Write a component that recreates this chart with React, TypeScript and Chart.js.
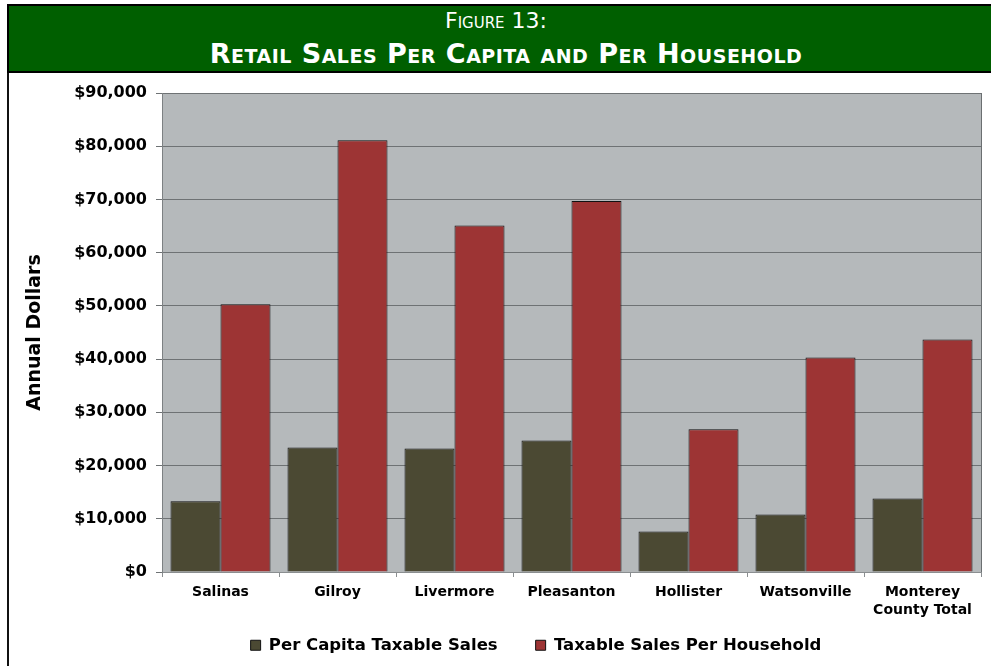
import React, { useEffect, useRef } from "react";
import { Chart, registerables } from "chart.js";

Chart.register(...registerables);

const categories: (string | string[])[] = [
  "Salinas",
  "Gilroy",
  "Livermore",
  "Pleasanton",
  "Hollister",
  "Watsonville",
  ["Monterey", "County Total"],
];
const perCapitaSales = [13300, 23400, 23200, 24700, 7600, 10800, 13800];
const perHouseholdSales = [50300, 81100, 65100, 69700, 26800, 40300, 43700];
const seriesNames = ["Per Capita Taxable Sales", "Taxable Sales Per Household"];
const yMin = 0;
const yMax = 90000;
const yStep = 10000;
const yTitle = "Annual Dollars";
const headerLine1 = "Figure 13:";
const headerLine2 = "Retail Sales Per Capita and Per Household";

const FONT = "'DejaVu Sans', Verdana, sans-serif";

const plotFrame = {
  id: "plotFrame",
  beforeDraw(chart: any) {
    const { ctx, chartArea: a } = chart;
    ctx.save();
    ctx.fillStyle = "#b5b9bb";
    ctx.fillRect(a.left, a.top, a.right - a.left, a.bottom - a.top);
    ctx.restore();
  },
  afterDatasetsDraw(chart: any) {
    const { ctx, chartArea: a } = chart;
    ctx.save();
    ctx.strokeStyle = "#6b6f71";
    ctx.lineWidth = 1;
    ctx.beginPath();
    ctx.moveTo(Math.round(a.right) + 0.5, a.top);
    ctx.lineTo(Math.round(a.right) + 0.5, a.bottom);
    ctx.stroke();
    ctx.restore();
  },
};

// place the legend under the plot, centred like the original
const legendPlacer = {
  id: "legendPlacer",
  afterLayout(chart: any) {
    const l = chart.legend;
    if (!l) return;
    l.left = 91;
    l.top = 599;
  },
};

export default function App() {
  const canvasRef = useRef<HTMLCanvasElement | null>(null);

  useEffect(() => {
    if (!canvasRef.current) return;
    Chart.defaults.color = "#000";
    const chart = new Chart(canvasRef.current, {
      type: "bar",
      data: {
        labels: categories,
        datasets: [
          {
            label: seriesNames[0],
            data: perCapitaSales,
            backgroundColor: "#4b4933",
            borderColor: "#111",
            borderWidth: 1,
          },
          {
            label: seriesNames[1],
            data: perHouseholdSales,
            backgroundColor: "#9d3434",
            borderColor: "#111",
            borderWidth: 1,
          },
        ],
      },
      options: {
        responsive: false,
        animation: false,
        devicePixelRatio: 1,
        layout: { padding: { left: 0, right: 10, top: 93, bottom: 6 } },
        datasets: {
          bar: { barPercentage: 1, categoryPercentage: 100 / 117 },
        },
        plugins: {
          tooltip: { enabled: false },
          legend: {
            position: "bottom",
            maxHeight: 40,
            labels: {
              boxWidth: 10,
              boxHeight: 10,
              padding: 38,
              color: "#000",
              font: { family: FONT, size: 16.5, weight: "bold" },
            },
          },
        },
        scales: {
          x: {
            afterFit: (s: any) => {
              s.height = 48;
            },
            grid: {
              display: true,
              drawOnChartArea: false,
              drawTicks: true,
              tickLength: 5,
              color: "#8a8e90",
              offset: true,
            },
            border: { color: "#8a8e90" },
            ticks: {
              padding: 6,
              maxRotation: 0,
              autoSkip: false,
              color: "#000",
              font: { family: FONT, size: 14, weight: "bold", lineHeight: 1.3 },
            },
          },
          y: {
            min: yMin,
            max: yMax,
            afterFit: (s: any) => {
              s.width = 162;
            },
            grid: {
              color: "#6e7274",
              tickLength: 6,
              drawTicks: true,
            },
            border: { color: "#7d8183" },
            ticks: {
              stepSize: yStep,
              padding: 9,
              color: "#000",
              font: { family: FONT, size: 16, weight: "bold" },
              callback: (v: any) => "$" + Number(v).toLocaleString("en-US"),
            },
            title: {
              display: true,
              text: yTitle,
              color: "#000",
              font: { family: FONT, size: 19, weight: "bold", lineHeight: 1.2 },
              padding: { top: 23.6, bottom: 0 },
            },
          },
        },
      },
      plugins: [plotFrame, legendPlacer],
    });
    return () => chart.destroy();
  }, []);

  return (
    <div
      style={{
        position: "absolute",
        left: 0,
        top: 0,
        width: 991,
        height: 666,
        overflow: "hidden",
        background: "#fff",
      }}
    >
      <canvas
        ref={canvasRef}
        width={991}
        height={666}
        style={{ position: "absolute", left: 0, top: 0, width: 991, height: 666 }}
      />
      <div
        style={{
          position: "absolute",
          left: 7,
          top: 4,
          width: 994,
          height: 65,
          borderTop: "2px solid #000",
          borderLeft: "2px solid #000",
          borderBottom: "2px solid #000",
          background: "#005f00",
          color: "#fff",
          textAlign: "center",
          fontVariant: "small-caps",
          fontFamily: FONT,
        }}
      >
        <div
          style={{
            position: "absolute",
            left: 0,
            right: 20,
            top: 2,
            fontSize: 22,
            lineHeight: "26px",
            fontWeight: "normal",
          }}
        >
          {headerLine1}
        </div>
        <div
          style={{
            position: "absolute",
            left: 0,
            right: 0,
            top: 32,
            fontSize: 27,
            lineHeight: "32px",
            fontWeight: "bold",
            letterSpacing: "0.5px",
          }}
        >
          {headerLine2}
        </div>
      </div>
      <div
        style={{
          position: "absolute",
          left: 7,
          top: 73,
          width: 2,
          height: 593,
          background: "#111",
        }}
      />
    </div>
  );
}
